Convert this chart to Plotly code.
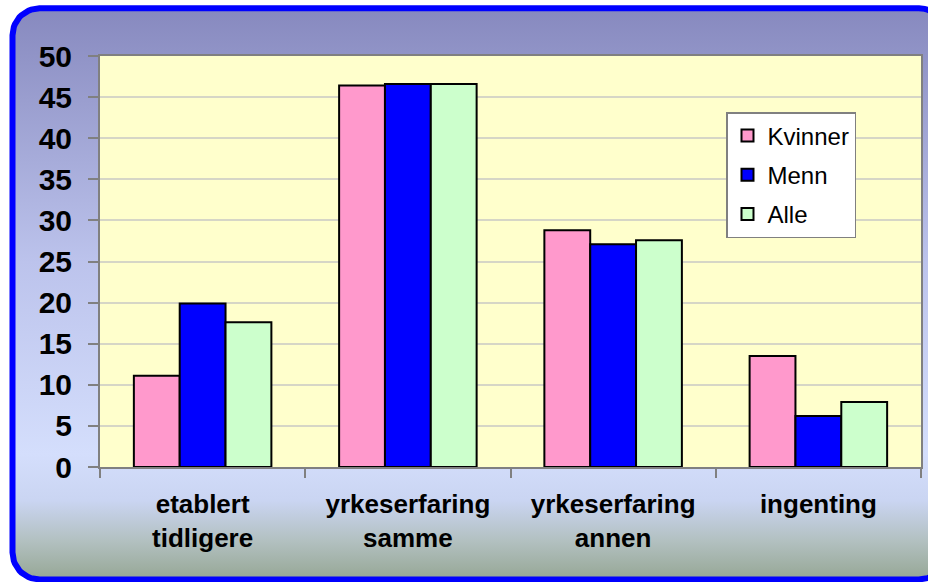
import numpy as np
import plotly.graph_objects as go

# data
categories = ['etablert<br>tidligere', 'yrkeserfaring<br>samme', 'yrkeserfaring<br>annen', 'ingenting']
kvinner = [11.1, 46.4, 28.8, 13.5]
menn = [19.9, 46.6, 27.1, 6.2]
alle = [17.6, 46.6, 27.6, 7.9]
series_names = ['Kvinner', 'Menn', 'Alle']
series_colors = ['#FF99CC', '#0000FF', '#CCFFCC']
y_ticks = [0, 5, 10, 15, 20, 25, 30, 35, 40, 45, 50]

W, H = 928, 582
# plot area in pixels (from top-left)
px0, px1 = 100, 921
py_top, py_bot = 56, 467
dom_x = [px0 / W, px1 / W]
dom_y = [(H - py_bot) / H, (H - py_top) / H]


def rounded_rect(x0, x1, y0, y1, r, n=16):
    xs, ys = [], []
    corners = [(x1 - r, y1 - r, 0), (x0 + r, y1 - r, 90),
               (x0 + r, y0 + r, 180), (x1 - r, y0 + r, 270)]
    for cx, cy, a0 in corners:
        t = np.radians(np.linspace(a0, a0 + 90, n))
        xs += list(cx + r * np.cos(t))
        ys += list(cy + r * np.sin(t))
    xs.append(xs[0])
    ys.append(ys[0])
    return xs, ys


fig = go.Figure()

# background frame with gradient (pixel axes x/y)
bx, by = rounded_rect(12.5, 946, H - 579.5, H - 8.3, 27)
fig.add_trace(go.Scatter(
    x=bx, y=by, mode='lines', fill='toself',
    line=dict(color='#0000FF', width=6),
    fillgradient=dict(type='vertical', start=0, stop=H,
                      colorscale=[[0.0, '#94a592'], [0.07, '#b2c0c0'],
                                  [0.14, '#cad5f2'], [0.22, '#d4defc'],
                                  [0.55, '#bcc3ec'], [1.0, '#8587bd']]),
    hoverinfo='skip', showlegend=False, xaxis='x', yaxis='y'))

# plot area fill
fig.add_trace(go.Scatter(
    x=[px0, px1, px1, px0, px0], y=[H - py_bot, H - py_bot, H - py_top, H - py_top, H - py_bot],
    mode='lines', fill='toself', fillcolor='#FFFFCC', line=dict(width=0),
    hoverinfo='skip', showlegend=False, xaxis='x', yaxis='y'))

for i, (name, vals) in enumerate(zip(series_names, [kvinner, menn, alle])):
    fig.add_trace(go.Bar(
        x=categories, y=vals, name=name,
        marker=dict(color=series_colors[i], line=dict(color='black', width=2)),
        legendgroup=name, xaxis='x2', yaxis='y2'))

fig.update_layout(
    width=W, height=H,
    margin=dict(l=0, r=0, t=0, b=0, autoexpand=False),
    paper_bgcolor='white',
    plot_bgcolor='rgba(0,0,0,0)',
    barmode='group', bargap=0.33, bargroupgap=0,
    font=dict(family='Arial, Liberation Sans, sans-serif', color='black'),
    xaxis=dict(domain=[0, 1], range=[0, W], visible=False, fixedrange=True, automargin=False),
    yaxis=dict(domain=[0, 1], range=[0, H], visible=False, fixedrange=True, automargin=False),
    xaxis2=dict(domain=dom_x, anchor='y2', showline=True, linecolor='#808080', linewidth=2,
                mirror=True, ticks='outside', tickson='boundaries', ticklen=9,
                tickcolor='#808080', tickwidth=2, showgrid=False, automargin=False,
                tickfont=dict(size=26, family='Arial, Liberation Sans, sans-serif'),
                ticklabelstandoff=13),
    yaxis2=dict(domain=dom_y, anchor='x2', range=[0, 50], tickvals=y_ticks,
                showline=True, linecolor='#808080', linewidth=2, mirror=True,
                ticks='outside', ticklen=10, tickcolor='#808080', tickwidth=2,
                showgrid=True, gridcolor='#d6d6c6', gridwidth=2, zeroline=False,
                automargin=False,
                tickfont=dict(size=30, family='Arial, Liberation Sans, sans-serif'),
                ticklabelstandoff=10),
    legend=dict(x=726 / W, y=1 - 112 / H, xanchor='left', yanchor='top',
                bgcolor='white', bordercolor='#808080', borderwidth=1.5,
                font=dict(size=24), traceorder='grouped', tracegroupgap=5),
)
fig.update_xaxes(tickfont_weight='bold', selector=dict(anchor='y2'))
fig.update_yaxes(tickfont_weight='bold', selector=dict(anchor='x2'))

# page body has a default 8px margin, drop it so the figure fills the window
fig.write_html('out.html', config={'displayModeBar': False},
               post_script="document.body.style.margin='0';")
